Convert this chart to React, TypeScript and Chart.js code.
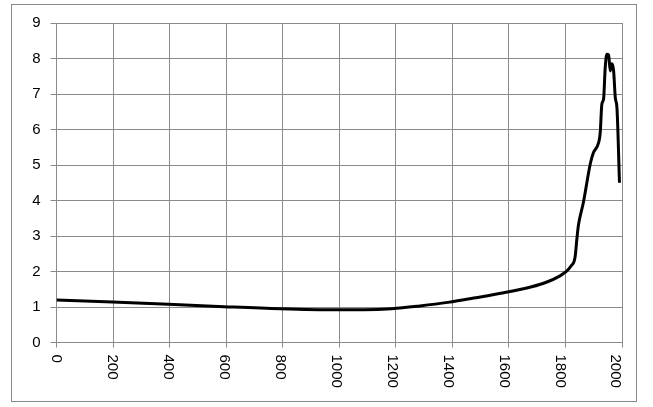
import React, { useEffect, useRef } from "react";
import { Chart, registerables } from "chart.js";

Chart.register(...registerables);

const years = [0, 200, 400, 600, 800, 1000, 1100, 1200, 1300, 1400, 1500, 1600, 1700, 1750, 1800, 1820, 1840, 1855, 1862, 1867, 1885, 1910, 1921, 1939, 1945, 1951, 1957, 1963, 1969, 1975, 1981, 1987, 1993, 1999, 2005, 2014];
const values = [1.2, 1.14, 1.08, 1.01, 0.95, 0.92, 0.92, 0.95, 1.03, 1.13, 1.26, 1.4, 1.57, 1.69, 1.87, 1.98, 2.15, 2.4, 2.95, 3.3, 3.95, 5.05, 5.35, 5.62, 5.9, 6.72, 6.85, 7.75, 8.12, 8.1, 7.65, 7.85, 7.65, 6.9, 6.6, 4.5];
const xTickLabels = ["0", "200", "400", "600", "800", "1000", "1200", "1400", "1600", "1800", "2000"];
const yTickValues = [0, 1, 2, 3, 4, 5, 6, 7, 8, 9];

const GRID = "#8a8a8a";
const FONT = "'Liberation Sans', Arial, sans-serif";

export default function App() {
  const ref = useRef<HTMLCanvasElement | null>(null);
  useEffect(() => {
    document.body.style.margin = "0";
    const canvas = ref.current;
    if (!canvas) return;
    const decor = {
      id: "decor",
      afterDraw(chart: any) {
        const ctx = chart.ctx;
        const xs = chart.scales.x;
        const area = chart.chartArea;
        ctx.save();
        ctx.strokeStyle = GRID;
        ctx.lineWidth = 1;
        ctx.strokeRect(11.5, 4.5, 625, 397);
        ctx.fillStyle = "#000";
        ctx.font = "15px " + FONT;
        ctx.textAlign = "left";
        ctx.textBaseline = "middle";
        xTickLabels.forEach((lab) => {
          const px = xs.getPixelForValue(Number(lab));
          ctx.save();
          ctx.translate(px, area.bottom + 12);
          ctx.rotate(Math.PI / 2);
          ctx.fillText(lab, 0, 0);
          ctx.restore();
        });
        ctx.restore();
      },
    };
    const chart = new Chart(canvas, {
      type: "line",
      data: {
        datasets: [
          {
            data: years.map((y, i) => ({ x: y, y: values[i] })),
            borderColor: "#000",
            borderWidth: 3,
            pointRadius: 0,
            cubicInterpolationMode: "monotone",
            fill: false,
          },
        ],
      },
      options: {
        animation: false,
        responsive: false,
        devicePixelRatio: 1,
        layout: { padding: { top: 23, right: 31, bottom: 59.5, left: 0 } },
        plugins: { legend: { display: false }, tooltip: { enabled: false } },
        scales: {
          x: {
            type: "linear",
            bounds: "data",
            min: 0,
            max: 2023,
            ticks: { display: false, stepSize: 200, includeBounds: false },
            grid: { color: GRID, lineWidth: 1, tickLength: 5, drawTicks: true },
            border: { display: false },
          },
          y: {
            min: 0,
            max: 9,
            afterFit: (s: any) => {
              s.width = 56.5;
            },
            afterBuildTicks: (s: any) => {
              s.ticks = yTickValues.map((v) => ({ value: v }));
            },
            ticks: { stepSize: 1, color: "#000", padding: 10, font: { size: 15, family: FONT } },
            grid: { color: GRID, lineWidth: 1, tickLength: 6 },
            border: { display: false },
          },
        },
      },
      plugins: [decor],
    } as any);
    return () => chart.destroy();
  }, []);
  return (
    <div style={{ position: "absolute", left: 0, top: 0, width: 653, height: 407, background: "#fff" }}>
      <canvas ref={ref} width={653} height={407} />
    </div>
  );
}
